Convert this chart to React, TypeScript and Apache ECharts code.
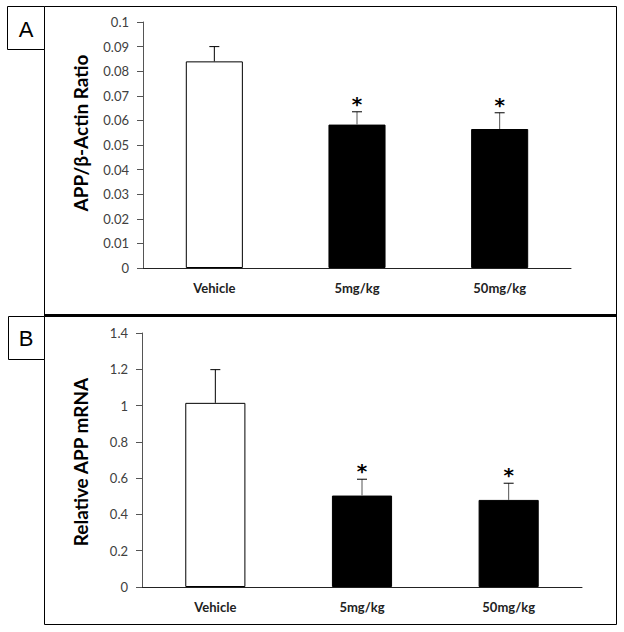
import React, { useEffect, useRef } from "react";
import * as echarts from "echarts";

const categories = ["Vehicle", "5mg/kg", "50mg/kg"];
const ratioValues = [0.084, 0.0583, 0.0565];
const ratioErrors = [0.006, 0.0052, 0.0066];
const mrnaValues = [1.015, 0.504, 0.48];
const mrnaErrors = [0.183, 0.09, 0.092];
const significant = [false, true, true];
const barColors = ["#ffffff", "#000000", "#000000"];
const ratioAxis = { min: 0, max: 0.1, interval: 0.01 };
const mrnaAxis = { min: 0, max: 1.4, interval: 0.2 };
const ratioTitle = "APP/β-Actin Ratio";
const mrnaTitle = "Relative APP mRNA";

const FONT = "Lato, 'Open Sans', sans-serif";

function barData(values: number[]) {
  return values.map((v, i) => ({
    value: v,
    itemStyle: { color: barColors[i], borderColor: "#000", borderWidth: 1 },
  }));
}

function errData(values: number[], errs: number[]) {
  return values.map((v, i) => [i, v, errs[i], significant[i] ? 1 : 0]);
}

function renderErr(params: any, api: any) {
  const idx = api.value(0);
  const v = api.value(1);
  const e = api.value(2);
  const sig = api.value(3);
  const p0 = api.coord([idx, v]);
  const p1 = api.coord([idx, v + e]);
  const children: any[] = [
    {
      type: "line",
      shape: { x1: p0[0], y1: p0[1], x2: p1[0], y2: p1[1] },
      style: { stroke: sig ? "#555" : "#000", lineWidth: 1 },
    },
    {
      type: "line",
      shape: { x1: p1[0] - 5, y1: p1[1], x2: p1[0] + 5, y2: p1[1] },
      style: { stroke: "#000", lineWidth: 1 },
    },
  ];
  if (sig) {
    children.push({
      type: "text",
      x: p1[0],
      y: p1[1] - 8,
      style: {
        text: "*",
        fill: "#000",
        font: "bold 20px 'DejaVu Sans', sans-serif",
        textAlign: "center",
        textVerticalAlign: "middle",
      },
    });
  }
  return { type: "group", children };
}

const axisLabelStyle = { color: "#404040", fontSize: 13, fontFamily: FONT, margin: 14 };

export default function App() {
  const ref = useRef<HTMLDivElement>(null);
  useEffect(() => {
    if (!ref.current) return;
    const chart = echarts.init(ref.current, undefined, { renderer: "svg" });
    chart.setOption({
      animation: false,
      backgroundColor: "#ffffff",
      grid: [
        { left: 143, top: 22, width: 428, height: 246 },
        { left: 142, top: 333, width: 440, height: 254 },
      ],
      xAxis: [0, 1].map((g) => ({
        type: "category",
        gridIndex: g,
        data: categories,
        axisTick: { show: false },
        axisLine: { lineStyle: { color: "#222", width: 1 } },
        axisLabel: { color: "#222", fontSize: 13, fontWeight: "bold", fontFamily: FONT, margin: 13 },
      })),
      yAxis: [ratioAxis, mrnaAxis].map((a, g) => ({
        type: "value",
        gridIndex: g,
        min: a.min,
        max: a.max,
        interval: a.interval,
        splitLine: { show: false },
        axisLine: { show: true, lineStyle: { color: "#555", width: 1 } },
        axisTick: { show: true, length: 6, lineStyle: { color: "#555" } },
        axisLabel: axisLabelStyle,
      })),
      series: [
        {
          type: "bar",
          xAxisIndex: 0,
          yAxisIndex: 0,
          barWidth: "40%",
          data: barData(ratioValues),
        },
        {
          type: "custom",
          xAxisIndex: 0,
          yAxisIndex: 0,
          renderItem: renderErr,
          data: errData(ratioValues, ratioErrors),
          z: 3,
        },
        {
          type: "bar",
          xAxisIndex: 1,
          yAxisIndex: 1,
          barWidth: "41%",
          data: barData(mrnaValues),
        },
        {
          type: "custom",
          xAxisIndex: 1,
          yAxisIndex: 1,
          renderItem: renderErr,
          data: errData(mrnaValues, mrnaErrors),
          z: 3,
        },
      ],
      graphic: [
        { type: "rect", shape: { x: 44.5, y: 6.5, width: 572, height: 309 }, style: { fill: "none", stroke: "#000", lineWidth: 1 }, z: 0 },
        { type: "rect", shape: { x: 44.5, y: 316.5, width: 572, height: 308 }, style: { fill: "none", stroke: "#000", lineWidth: 1 }, z: 0 },
        { type: "line", shape: { x1: 44, y1: 315.5, x2: 617, y2: 315.5 }, style: { stroke: "#000", lineWidth: 3 } },
        { type: "rect", shape: { x: 7.5, y: 6.5, width: 37, height: 43 }, style: { fill: "#fff", stroke: "#000", lineWidth: 1 } },
        { type: "rect", shape: { x: 8.5, y: 316.5, width: 36, height: 43 }, style: { fill: "#fff", stroke: "#000", lineWidth: 1 } },
        { type: "text", x: 26, y: 29, style: { text: "A", font: "22px 'Liberation Sans', Arial, sans-serif", fill: "#000", textAlign: "center", textVerticalAlign: "middle" } },
        { type: "text", x: 26, y: 338, style: { text: "B", font: "22px 'Liberation Sans', Arial, sans-serif", fill: "#000", textAlign: "center", textVerticalAlign: "middle" } },
        { type: "text", x: 80, y: 133, rotation: Math.PI / 2, style: { text: ratioTitle, font: `bold 19px ${FONT}`, fill: "#000", textAlign: "center", textVerticalAlign: "middle" } },
        { type: "text", x: 80, y: 462, rotation: Math.PI / 2, style: { text: mrnaTitle, font: `bold 19px ${FONT}`, fill: "#000", textAlign: "center", textVerticalAlign: "middle" } },
      ],
    });
    return () => chart.dispose();
  }, []);
  return <div ref={ref} style={{ position: "absolute", left: 0, top: 0, width: 624, height: 632 }} />;
}
